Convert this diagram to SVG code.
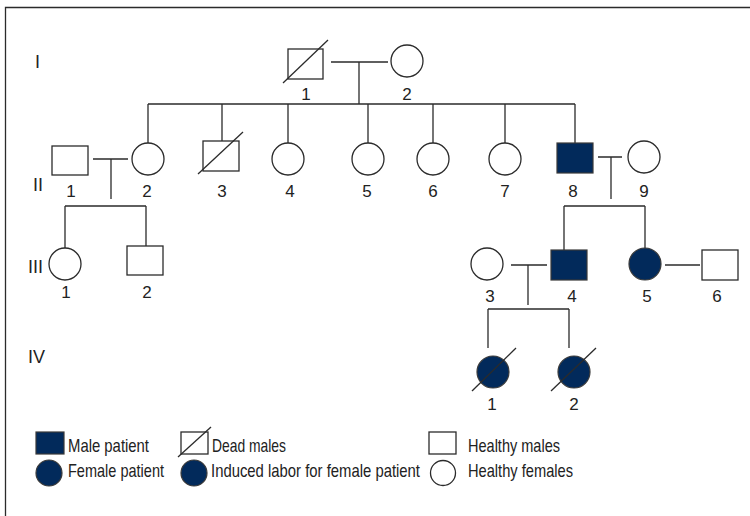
<svg xmlns="http://www.w3.org/2000/svg" width="750" height="516" viewBox="0 0 750 516">
<style>
.s{fill:#fff;stroke:#2b2b2b;stroke-width:1.3}
.p{fill:#022a5b;stroke:#3a3a3a;stroke-width:1.2}
.ln{stroke:#2b2b2b;stroke-width:1.3;fill:none}
text{font-family:"Liberation Sans",Arial,sans-serif;font-size:17px;fill:#222}
.n{text-anchor:middle}
.g{font-size:18px}
.lg{font-size:18.5px}
</style>
<rect width="750" height="516" fill="#fff"/>
<path class="ln" d="M750 7.5H5.5V516"/>
<g id="gen-labels">
<text class="g" x="35" y="68">I</text>
<text class="g" x="33" y="191">II</text>
<text class="g" x="28" y="273">III</text>
<text class="g" x="28" y="363">IV</text>
</g>
<g id="connectors" class="ln">
<path d="M331 62H388M359 62V104M148 104H575"/>
<path d="M148 104V143M222 104V141M288 104V143M368 104V143M433 104V143M505 104V143M575 104V143"/>
<path d="M93 159H128M111 159V199M65 206H146M65 206V248M146 206V246"/>
<path d="M598 157H622M611 157V199M564 206H645M564 206V250M645 206V248"/>
<path d="M511 265H547M528 265V305M488 309H569M488 309V348M569 309V348"/>
<path d="M665 265H700"/>
</g>
<g id="I-1"><rect class="s" x="288" y="49" width="35" height="30"/><path class="ln" d="M283 83L328 40"/><text class="n" x="306" y="100">1</text></g>
<g id="I-2"><circle class="s" cx="407" cy="61" r="16"/><text class="n" x="407" y="100">2</text></g>
<g id="II-1"><rect class="s" x="52" y="146" width="36" height="29"/><text class="n" x="71" y="197">1</text></g>
<g id="II-2"><circle class="s" cx="148" cy="159" r="16"/><text class="n" x="147" y="197">2</text></g>
<g id="II-3"><rect class="s" x="203" y="141" width="36" height="30"/><path class="ln" d="M198 174L243 132"/><text class="n" x="222" y="197">3</text></g>
<g id="II-4"><circle class="s" cx="288" cy="159" r="16"/><text class="n" x="290" y="197">4</text></g>
<g id="II-5"><circle class="s" cx="368" cy="159" r="16"/><text class="n" x="367" y="197">5</text></g>
<g id="II-6"><circle class="s" cx="433" cy="159" r="16"/><text class="n" x="433" y="197">6</text></g>
<g id="II-7"><circle class="s" cx="505" cy="159" r="16"/><text class="n" x="505" y="197">7</text></g>
<g id="II-8"><rect class="p" x="557" y="143" width="36" height="30"/><text class="n" x="573" y="197">8</text></g>
<g id="II-9"><circle class="s" cx="644" cy="157" r="16"/><text class="n" x="644" y="197">9</text></g>
<g id="III-1"><circle class="s" cx="65" cy="264" r="16"/><text class="n" x="66" y="298">1</text></g>
<g id="III-2"><rect class="s" x="127" y="246" width="36" height="29"/><text class="n" x="147" y="298">2</text></g>
<g id="III-3"><circle class="s" cx="487" cy="264" r="16"/><text class="n" x="490" y="302">3</text></g>
<g id="III-4"><rect class="p" x="551" y="250" width="36" height="30"/><text class="n" x="572" y="302">4</text></g>
<g id="III-5"><circle class="p" cx="645" cy="264" r="16"/><text class="n" x="647" y="302">5</text></g>
<g id="III-6"><rect class="s" x="702" y="250" width="36" height="30"/><text class="n" x="717" y="302">6</text></g>
<g id="IV-1"><circle class="p" cx="493" cy="372" r="16"/><path class="ln" d="M472 391L516 348"/><text class="n" x="492" y="410">1</text></g>
<g id="IV-2"><circle class="p" cx="574" cy="372" r="16"/><path class="ln" d="M551 391L596 348"/><text class="n" x="574" y="410">2</text></g>
<g id="legend">
<rect class="p" x="36" y="432" width="28" height="22"/><text class="lg" x="68" y="452" textLength="81" lengthAdjust="spacingAndGlyphs">Male patient</text>
<rect class="s" x="181" y="432" width="27" height="22"/><path class="ln" d="M178 457L211 427"/><text class="lg" x="212" y="452" textLength="74" lengthAdjust="spacingAndGlyphs">Dead males</text>
<rect class="s" x="429" y="432" width="27" height="22"/><text class="lg" x="468" y="452" textLength="92" lengthAdjust="spacingAndGlyphs">Healthy males</text>
<circle class="p" cx="49" cy="473" r="13"/><text class="lg" x="68" y="477" textLength="96" lengthAdjust="spacingAndGlyphs">Female patient</text>
<circle class="p" cx="194" cy="473" r="13"/><text class="lg" x="211" y="477" textLength="209" lengthAdjust="spacingAndGlyphs">Induced labor for female patient</text>
<circle class="s" cx="443" cy="473" r="12.5"/><text class="lg" x="468" y="477" textLength="105" lengthAdjust="spacingAndGlyphs">Healthy females</text>
</g>
</svg>
